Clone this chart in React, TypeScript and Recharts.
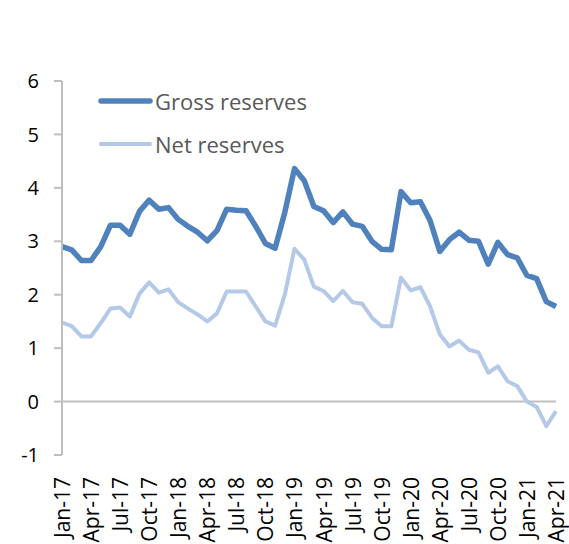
import { LineChart, Line, XAxis, YAxis, ReferenceLine } from "recharts"

const months = [
  "Jan-17", "Feb-17", "Mar-17", "Apr-17", "May-17", "Jun-17", "Jul-17", "Aug-17", "Sep-17", "Oct-17", "Nov-17", "Dec-17",
  "Jan-18", "Feb-18", "Mar-18", "Apr-18", "May-18", "Jun-18", "Jul-18", "Aug-18", "Sep-18", "Oct-18", "Nov-18", "Dec-18",
  "Jan-19", "Feb-19", "Mar-19", "Apr-19", "May-19", "Jun-19", "Jul-19", "Aug-19", "Sep-19", "Oct-19", "Nov-19", "Dec-19",
  "Jan-20", "Feb-20", "Mar-20", "Apr-20", "May-20", "Jun-20", "Jul-20", "Aug-20", "Sep-20", "Oct-20", "Nov-20", "Dec-20",
  "Jan-21", "Feb-21", "Mar-21", "Apr-21",
]

const gross = [
  2.9, 2.84, 2.64, 2.64, 2.9, 3.3, 3.3, 3.13, 3.56, 3.77, 3.6, 3.63,
  3.41, 3.28, 3.17, 3.01, 3.2, 3.6, 3.58, 3.57, 3.28, 2.96, 2.87, 3.54,
  4.36, 4.14, 3.65, 3.57, 3.35, 3.55, 3.32, 3.28, 3.0, 2.85, 2.84, 3.93,
  3.72, 3.74, 3.39, 2.81, 3.03, 3.17, 3.02, 3.0, 2.57, 2.98, 2.75, 2.69,
  2.36, 2.3, 1.87, 1.78,
]

const net = [
  1.48, 1.41, 1.22, 1.22, 1.47, 1.74, 1.76, 1.59, 2.02, 2.23, 2.04, 2.1,
  1.86, 1.74, 1.63, 1.5, 1.65, 2.06, 2.06, 2.06, 1.78, 1.5, 1.42, 2.0,
  2.86, 2.66, 2.15, 2.07, 1.88, 2.07, 1.86, 1.83, 1.57, 1.41, 1.41, 2.32,
  2.08, 2.14, 1.78, 1.26, 1.03, 1.14, 0.97, 0.92, 0.54, 0.66, 0.38, 0.29,
  0.0, -0.1, -0.46, -0.18,
]

const yTicks = [-1, 0, 1, 2, 3, 4, 5, 6]

const data = months.map((m, i) => ({ month: m, gross: gross[i], net: net[i] }))

const FONT = "'Open Sans', sans-serif"

const XTick = (props: any) => {
  const { x, y, payload } = props
  const ty = y + 16
  return (
    <text
      x={x}
      y={ty}
      transform={`rotate(-90, ${x}, ${ty})`}
      textAnchor="end"
      dominantBaseline="central"
      fontSize={21}
      fontFamily={FONT}
      fill="#000"
    >
      {payload.value}
    </text>
  )
}

export default function App() {
  return (
    <div style={{ position: "absolute", left: 0, top: 0, width: 569, height: 544, background: "#fff" }}>
      <LineChart width={569} height={544} data={data} margin={{ top: 81, right: 13, bottom: 0, left: 0 }}>
        <XAxis
          dataKey="month"
          scale="point"
          padding={{ left: 0, right: 0 }}
          interval={2}
          axisLine={false}
          tickLine={false}
          tickMargin={0}
          height={89}
          tick={<XTick />}
        />
        <YAxis
          width={62}
          domain={[-1, 6]}
          ticks={yTicks}
          interval={0}
          axisLine={{ stroke: "#bfbfbf", strokeWidth: 2 }}
          tickLine={{ stroke: "#bfbfbf", strokeWidth: 2 }}
          tickSize={8}
          tickMargin={15}
          tick={{ fontSize: 20, fontFamily: FONT, fill: "#000" }}
        />
        <ReferenceLine y={0} stroke="#bfbfbf" strokeWidth={2} />
        <Line
          dataKey="net"
          stroke="#b4c8e8"
          strokeWidth={4}
          dot={false}
          strokeLinejoin="round"
          isAnimationActive={false}
        />
        <Line
          dataKey="gross"
          stroke="#4f81bd"
          strokeWidth={5.5}
          dot={false}
          strokeLinejoin="round"
          isAnimationActive={false}
        />
      </LineChart>
      <svg width={569} height={544} style={{ position: "absolute", left: 0, top: 0, pointerEvents: "none" }}>
        <line x1={101} y1={101} x2={150} y2={101} stroke="#4f81bd" strokeWidth={5.5} strokeLinecap="round" />
        <text x={155} y={101} dominantBaseline="central" fontSize={22} fontFamily={FONT} fill="#595959">
          Gross reserves
        </text>
        <line x1={101} y1={144} x2={150} y2={144} stroke="#b4c8e8" strokeWidth={4} strokeLinecap="round" />
        <text x={155} y={144} dominantBaseline="central" fontSize={22} fontFamily={FONT} fill="#595959">
          Net reserves
        </text>
      </svg>
    </div>
  )
}
